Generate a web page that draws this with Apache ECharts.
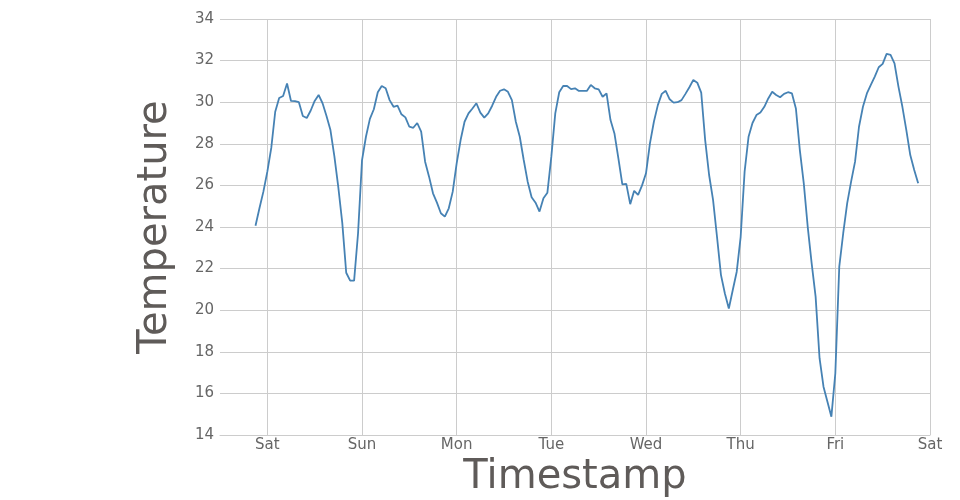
<!DOCTYPE html>
<html>
<head>
<meta charset="utf-8">
<script src="https://cdn.jsdelivr.net/npm/echarts@6/dist/echarts.min.js"></script>
<style>
html,body{margin:0;padding:0;background:#fff;}
#chart{width:960px;height:500px;}
</style>
</head>
<body>
<div id="chart"></div>
<script>
// Hourly readings, starting Friday 21:00 (local time)
const startYear = 2015, startMonth = 0, startDay = 2, startHour = 21;
const temperatures = [
  24.06, 24.9, 25.7,
  26.66, 27.8, 29.54, 30.2, 30.3, 30.9, 30.06, 30.05, 30.0, 29.34, 29.24, 29.6,
  30.06, 30.35, 29.95, 29.34, 28.66, 27.4, 25.9, 24.2, 21.8, 21.42, 21.42, 23.7,
  27.2, 28.34, 29.2, 29.66, 30.48, 30.78, 30.67, 30.1, 29.78, 29.83, 29.42, 29.27,
  28.82, 28.77, 29.0, 28.58, 27.14, 26.42, 25.62, 25.17, 24.66, 24.5, 24.9, 25.7,
  27.06, 28.18, 29.06, 29.46, 29.7, 29.95, 29.5, 29.26, 29.46, 29.83, 30.26, 30.55,
  30.62, 30.5, 30.1, 29.06, 28.34, 27.22, 26.18, 25.43, 25.17, 24.74, 25.38, 25.65,
  27.38, 29.46, 30.48, 30.78, 30.78, 30.63, 30.67, 30.54, 30.54, 30.54, 30.83, 30.67,
  30.62, 30.26, 30.42, 29.14, 28.5, 27.3, 26.05, 26.07, 25.1, 25.74, 25.54, 26.0,
  26.58, 28.02, 29.06, 29.86, 30.4, 30.55, 30.14, 29.98, 30.0, 30.1, 30.4, 30.72,
  31.07, 30.94, 30.46, 28.18, 26.5, 25.3, 23.53, 21.7, 20.8, 20.08, 20.97, 21.85,
  23.53, 26.66, 28.34, 29.0, 29.38, 29.5, 29.78, 30.18, 30.5, 30.35, 30.24, 30.4,
  30.48, 30.42, 29.7, 27.7, 26.1, 24.01, 22.25, 20.65, 17.69, 16.32, 15.6, 14.88,
  16.97, 22.1, 23.7, 25.14, 26.18, 27.14, 28.82, 29.78, 30.42, 30.83, 31.23, 31.68,
  31.84, 32.32, 32.27, 31.87, 30.75, 29.78, 28.66, 27.46, 26.74, 26.1
];
const dayNames = ['Sun', 'Mon', 'Tue', 'Wed', 'Thu', 'Fri', 'Sat'];
const dayOffsets = [1, 2, 3, 4, 5, 6, 7, 8]; // midnights (days after start date)
const yTicks = [14, 16, 18, 20, 22, 24, 26, 28, 30, 32, 34];
const xTitle = 'Timestamp';
const yTitle = 'Temperature';

const seriesData = temperatures.map((v, i) =>
  [new Date(startYear, startMonth, startDay, startHour + i).getTime(), v]);
const xMin = new Date(startYear, startMonth, startDay, 12).getTime();
const xMax = new Date(startYear, startMonth, startDay + 8, 0).getTime();
const midnights = dayOffsets.map(d => new Date(startYear, startMonth, startDay + d, 0).getTime());
const DAY = 24 * 3600 * 1000;

const FONT = '"DejaVu Sans"';
const GRID_COLOR = '#cccccc';
const chart = echarts.init(document.getElementById('chart'), null, {renderer: 'canvas'});
chart.setOption({
  animation: false,
  backgroundColor: '#ffffff',
  grid: {left: 220, right: 30, top: 19, bottom: 65, containLabel: false, outerBoundsMode: 'none'},
  xAxis: {
    type: 'time',
    min: xMin,
    max: xMax,
    minInterval: DAY,
    maxInterval: DAY,
    name: xTitle,
    nameLocation: 'middle',
    nameGap: 15,
    nameTextStyle: {fontFamily: FONT, fontSize: 40, color: '#5f5b59'},
    axisLine: {show: true, lineStyle: {color: GRID_COLOR, width: 1}},
    axisTick: {show: false},
    splitLine: {show: false},
    axisLabel: {
      fontFamily: FONT, fontSize: 15, color: '#666666', margin: 3,
      showMinLabel: false,
      showMaxLabel: true,
      formatter: function (val) {
        const d = new Date(val);
        if (d.getHours() !== 0) return '';
        return dayNames[d.getDay()];
      }
    }
  },
  yAxis: {
    type: 'value',
    min: yTicks[0],
    max: yTicks[yTicks.length - 1],
    interval: 2,
    name: yTitle,
    nameLocation: 'middle',
    nameGap: 44,
    nameTextStyle: {fontFamily: FONT, fontSize: 40, color: '#5f5b59'},
    axisLine: {show: false},
    axisTick: {show: false},
    splitLine: {show: true, lineStyle: {color: GRID_COLOR, width: 1}},
    axisLabel: {fontFamily: FONT, fontSize: 15, color: '#666666', margin: 6}
  },
  series: [{
    type: 'line',
    data: seriesData,
    showSymbol: false,
    symbol: 'none',
    z: 3,
    lineStyle: {color: '#4682b4', width: 1.8},
    itemStyle: {color: '#4682b4'},
    markLine: {
      silent: true,
      symbol: ['none', 'none'],
      label: {show: false},
      z: 1,
      lineStyle: {color: GRID_COLOR, width: 1, type: 'solid'},
      emphasis: {disabled: true},
      data: midnights.map(t => ({xAxis: t}))
    }
  }]
});
</script>
</body>
</html>
